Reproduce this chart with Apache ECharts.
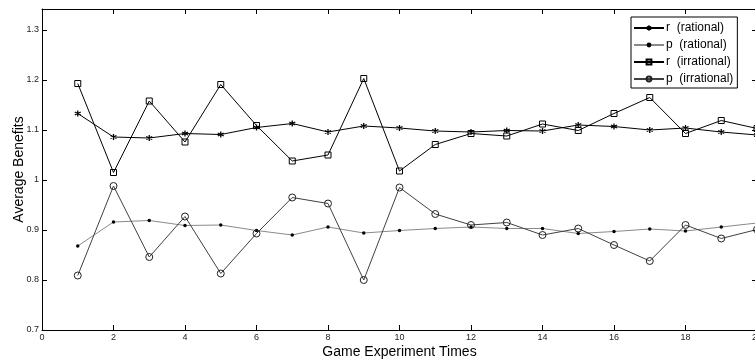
<!DOCTYPE html>
<html>
<head>
<meta charset="utf-8">
<script src="https://cdn.jsdelivr.net/npm/echarts@6/dist/echarts.min.js"></script>
<style>
html,body{margin:0;padding:0;background:#fff;}
#chart{width:755px;height:360px;}
</style>
</head>
<body>
<div id="chart"></div>
<script>
var xValues = [1,2,3,4,5,6,7,8,9,10,11,12,13,14,15,16,17,18,19,20];
var rRational = [1.133,1.086,1.084,1.093,1.091,1.105,1.113,1.096,1.108,1.104,1.098,1.096,1.099,1.098,1.110,1.107,1.100,1.104,1.096,1.090];
var pRational = [0.868,0.916,0.919,0.909,0.910,0.899,0.890,0.906,0.894,0.899,0.903,0.906,0.903,0.903,0.893,0.897,0.902,0.898,0.906,0.914];
var rIrrational = [1.193,1.015,1.158,1.076,1.191,1.109,1.038,1.050,1.203,1.018,1.071,1.093,1.088,1.112,1.099,1.133,1.165,1.093,1.119,1.103];
var pIrrational = [0.809,0.988,0.846,0.927,0.813,0.893,0.965,0.953,0.800,0.985,0.932,0.910,0.915,0.890,0.903,0.870,0.838,0.910,0.883,0.901];
var seriesNames = ['r  (rational)','p  (rational)','r  (irrational)','p  (irrational)'];
var xTicks = {min:0, max:20, interval:2};
var yTicks = {min:0.7, max:1.342, interval:0.1};

function pairs(vals){ return xValues.map(function(x,i){ return [x, vals[i]]; }); }

var FONT = 'Liberation Sans, Arial, Helvetica, sans-serif';
var starPath = 'path://M5,0L5,10M0.7,2.5L9.3,7.5M0.7,7.5L9.3,2.5';

function xAx(pos, show){
  return {
    type:'value', position:pos, min:xTicks.min, max:xTicks.max, interval:xTicks.interval,
    name: show ? 'Game Experiment Times' : '', nameLocation:'middle', nameGap:15, nameMoveOverlap:false,
    nameTextStyle:{fontFamily:FONT, fontSize:14, color:'#000'},
    axisLine:{show:true, onZero:false, lineStyle:{color:'#000', width:1}},
    axisTick:{show:true, inside:true, length:5, lineStyle:{color:'#000'}},
    axisLabel:{show:show, fontFamily:FONT, fontSize:9, color:'#222', margin:3, hideOverlap:false},
    splitLine:{show:false}
  };
}
function yAx(pos, show){
  return {
    type:'value', position:pos, min:yTicks.min, max:yTicks.max, interval:yTicks.interval,
    name: show ? 'Average Benefits' : '', nameLocation:'middle', nameGap:16, nameRotate:90, nameMoveOverlap:false,
    nameTextStyle:{fontFamily:FONT, fontSize:14, color:'#000'},
    axisLine:{show:true, onZero:false, lineStyle:{color:'#000', width:1}},
    axisTick:{show:true, inside:true, length:5, lineStyle:{color:'#000'}},
    axisLabel:{show:show, showMaxLabel:false, fontFamily:FONT, fontSize:9, color:'#222', margin:3,
      formatter:function(v){ return String(Math.round(v*10)/10); }},
    splitLine:{show:false}
  };
}

var chart = echarts.init(document.getElementById('chart'), null, {renderer:'canvas'});
chart.setOption({
  animation:false,
  backgroundColor:'#fff',
  grid:{left:42, top:9, right:-2, bottom:30, containLabel:false, outerBoundsMode:'none'},
  xAxis:[xAx('bottom', true), xAx('top', false)],
  yAxis:[yAx('left', true), yAx('right', false)],
  legend:{
    orient:'vertical', left:631, top:17, width:108,
    backgroundColor:'#fff', borderColor:'#000', borderWidth:1,
    padding:[5,4,3,2], itemWidth:30, itemHeight:6, itemGap:5,
    textStyle:{fontFamily:FONT, fontSize:12, color:'#000', padding:[0,0,0,-3]},
    data:seriesNames
  },
  series:[
    {name:seriesNames[0], type:'line', data:pairs(rRational), symbol:starPath, symbolSize:6,
     lineStyle:{color:'#000', width:1}, itemStyle:{color:'#000', borderColor:'#000', borderWidth:1.3}},
    {name:seriesNames[1], type:'line', data:pairs(pRational), symbol:'circle', symbolSize:3.5,
     lineStyle:{color:'#8a8a8a', width:1}, itemStyle:{color:'#000', borderWidth:0}},
    {name:seriesNames[2], type:'line', data:pairs(rIrrational), symbol:'rect', symbolSize:6,
     lineStyle:{color:'#000', width:1}, itemStyle:{color:'rgba(255,255,255,0)', borderColor:'#000', borderWidth:1}},
    {name:seriesNames[3], type:'line', data:pairs(pIrrational), symbol:'circle', symbolSize:7,
     lineStyle:{color:'#404040', width:1}, itemStyle:{color:'rgba(255,255,255,0)', borderColor:'#222', borderWidth:1}}
  ]
});
</script>
</body>
</html>
